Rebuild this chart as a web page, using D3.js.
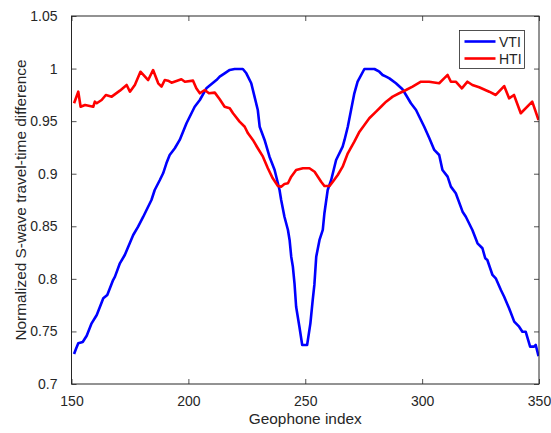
<!DOCTYPE html>
<html><head><meta charset="utf-8">
<script src="https://cdn.jsdelivr.net/npm/d3@7"></script>
<style>
body{margin:0;background:#fff;}
text{font-family:"Liberation Sans",Arial,Helvetica,sans-serif;fill:#262626;}
</style></head>
<body><svg id="c" width="551" height="433"></svg>
<script>
const xTicks = [150, 200, 250, 300, 350];
const yTicks = [0.7, 0.75, 0.8, 0.85, 0.9, 0.95, 1, 1.05];
const yTickLabels = ["0.7", "0.75", "0.8", "0.85", "0.9", "0.95", "1", "1.05"];
const seriesNames = ["VTI", "HTI"];
const seriesColors = ["#0000ff", "#ff0000"];

const vtiX = [151.1,151.9,152.9,154.8,156.5,158.6,160.8,163.6,165.3,167.8,168.6,170.7,172.8,176.4,178.5,180.7,182.1,184.2,185.6,187.8,189.2,190.6,192.0,194.2,196.3,199.2,202.7,204.9,207.7,212.0,213.4,215.5,217.7,219.8,223.3,224.8,226.9,228.3,229.7,230.5,232.6,234.7,236.9,239.0,239.7,241.1,242.6,243.3,244.0,244.7,245.4,246.1,247.5,248.7,250.8,252.2,253.2,253.9,254.7,256.1,257.5,258.2,259.6,261.1,263.2,266.0,266.8,268.2,269.6,271.0,272.4,275.3,279.6,281.7,283.1,284.6,286.0,288.8,291.6,293.1,295.2,297.4,298.8,300.9,303.1,305.2,307.3,308.7,310.9,312.3,314.4,317.3,318.7,321.5,323.7,325.8,327.0,327.9,330.1,331.5,333.7,335.1,337.2,339.4,341.5,342.9,344.3,346.2,347.9,348.6,349.8];
const vtiY = [0.7285,0.7333,0.7387,0.7399,0.7459,0.7577,0.7656,0.7815,0.7846,0.7989,0.8021,0.8148,0.8227,0.8417,0.8496,0.8591,0.8655,0.8750,0.8845,0.8940,0.9004,0.9099,0.9178,0.9242,0.9321,0.9480,0.9637,0.9701,0.9812,0.9891,0.9923,0.9955,0.9987,0.9996,0.9996,0.9955,0.9860,0.9733,0.9606,0.9447,0.9321,0.9162,0.9035,0.8845,0.8750,0.8591,0.8465,0.8370,0.8211,0.8116,0.7958,0.7735,0.7545,0.7371,0.7371,0.7577,0.7799,0.7942,0.8211,0.8370,0.8465,0.8624,0.8845,0.8940,0.9130,0.9257,0.9321,0.9447,0.9606,0.9765,0.9875,0.9996,0.9996,0.9970,0.9939,0.9923,0.9907,0.9860,0.9803,0.9749,0.9670,0.9606,0.9542,0.9447,0.9337,0.9226,0.9178,0.9035,0.8972,0.8877,0.8814,0.8639,0.8591,0.8465,0.8338,0.8291,0.8196,0.8179,0.8037,0.8005,0.7894,0.7830,0.7720,0.7593,0.7545,0.7497,0.7497,0.7355,0.7355,0.7371,0.7265];

const htiX = [151.1,152.9,153.9,155.8,159.3,160.0,160.8,162.9,164.7,167.2,170.7,173.6,175.0,177.1,179.5,182.8,184.9,187.1,188.5,189.9,191.3,192.8,197.0,198.5,202.0,203.4,204.9,207.0,208.8,211.3,213.4,215.5,217.7,219.1,221.9,224.1,225.5,227.6,229.7,231.9,234.0,236.1,238.3,239.7,241.1,242.6,244.0,246.1,249.0,251.8,254.0,255.4,256.8,258.2,260.4,261.8,263.9,266.0,268.2,271.0,273.2,275.3,277.4,280.3,282.4,284.6,287.4,290.2,293.1,295.9,299.5,303.0,307.3,309.4,310.9,312.3,314.4,317.0,319.4,321.5,324.4,328.7,331.5,335.1,337.2,339.3,342.2,347.1,349.8];
const htiY = [0.9670,0.9780,0.9637,0.9654,0.9637,0.9685,0.9670,0.9701,0.9749,0.9733,0.9790,0.9844,0.9780,0.9844,0.9970,0.9891,0.9986,0.9860,0.9828,0.9891,0.9885,0.9866,0.9898,0.9875,0.9885,0.9812,0.9765,0.9796,0.9765,0.9771,0.9708,0.9637,0.9622,0.9575,0.9495,0.9447,0.9384,0.9321,0.9242,0.9162,0.9052,0.8956,0.8883,0.8877,0.8902,0.8909,0.8972,0.9035,0.9052,0.9052,0.9019,0.8972,0.8924,0.8883,0.8883,0.8924,0.8988,0.9067,0.9194,0.9305,0.9400,0.9463,0.9527,0.9590,0.9637,0.9685,0.9733,0.9765,0.9796,0.9828,0.9875,0.9875,0.9860,0.9907,0.9939,0.9875,0.9875,0.9812,0.9875,0.9844,0.9822,0.9780,0.9749,0.9834,0.9717,0.9749,0.9575,0.9685,0.9511];

const L = 71.5, R = 539, T = 16, B = 384;
const svg = d3.select("#c");
const x = d3.scaleLinear().domain([150, 350]).range([L, R]);
const y = d3.scaleLinear().domain([0.7, 1.05]).range([B, T]);
const axisColor = "#262626";

// clip
svg.append("defs").append("clipPath").attr("id","clip")
  .append("rect").attr("x",L).attr("y",T).attr("width",R-L).attr("height",B-T);

// data lines
const series = [vtiX.map((v,i)=>[v,vtiY[i]]), htiX.map((v,i)=>[v,htiY[i]])];
const line = d3.line().x(d=>x(d[0])).y(d=>y(d[1]));
const g = svg.append("g").attr("clip-path","url(#clip)");
series.forEach((s,i)=>{
  g.append("path").attr("d",line(s)).attr("fill","none")
   .attr("stroke",seriesColors[i]).attr("stroke-width",2.6)
   .attr("stroke-linejoin","round").attr("stroke-linecap","butt");
});

// axes (ticks inward, box)
const fmtY = d => yTickLabels[yTicks.indexOf(d)];
function styleAxis(sel){
  sel.select(".domain").remove();
  sel.selectAll(".tick line").attr("stroke",axisColor).attr("stroke-width",0.8);
  sel.selectAll("text").attr("fill",axisColor).style("font-size","14px")
     .style("font-family",'"Liberation Sans",Arial,sans-serif');
}
svg.append("g").attr("transform",`translate(0,${B})`)
  .call(d3.axisBottom(x).tickValues(xTicks).tickSizeInner(-5).tickSizeOuter(0).tickPadding(12).tickFormat(d3.format("d")))
  .call(styleAxis);
svg.append("g").attr("transform",`translate(0,${T})`)
  .call(d3.axisTop(x).tickValues(xTicks).tickSizeInner(-5).tickSizeOuter(0).tickFormat(""))
  .call(styleAxis);
svg.append("g").attr("transform",`translate(${L},0)`)
  .call(d3.axisLeft(y).tickValues(yTicks).tickSizeInner(-5).tickSizeOuter(0).tickPadding(14).tickFormat(fmtY))
  .call(styleAxis);
svg.append("g").attr("transform",`translate(${R},0)`)
  .call(d3.axisRight(y).tickValues(yTicks).tickSizeInner(-5).tickSizeOuter(0).tickFormat(""))
  .call(styleAxis);

svg.append("rect").attr("x",L).attr("y",T).attr("width",R-L).attr("height",B-T)
  .attr("fill","none").attr("stroke",axisColor).attr("stroke-width",1);

// axis labels
svg.append("text").attr("x",(L+R)/2).attr("y",424).attr("text-anchor","middle")
  .style("font-size","15.4px").text("Geophone index");
svg.append("text").attr("transform",`translate(26,${(T+B)/2}) rotate(-90)`)
  .attr("text-anchor","middle").style("font-size","15.4px")
  .text("Normalized S-wave travel-time difference");

// legend
const lg = svg.append("g");
lg.append("rect").attr("x",459.5).attr("y",30.5).attr("width",65).attr("height",38)
  .attr("fill","#fff").attr("stroke",axisColor).attr("stroke-width",0.8);
seriesNames.forEach((n,i)=>{
  const yy = 41.5 + i*17;
  lg.append("line").attr("x1",464.5).attr("x2",495.5).attr("y1",yy).attr("y2",yy)
    .attr("stroke",seriesColors[i]).attr("stroke-width",2.6);
  lg.append("text").attr("x",499).attr("y",yy+5).style("font-size","14px").text(n);
});
</script></body></html>
